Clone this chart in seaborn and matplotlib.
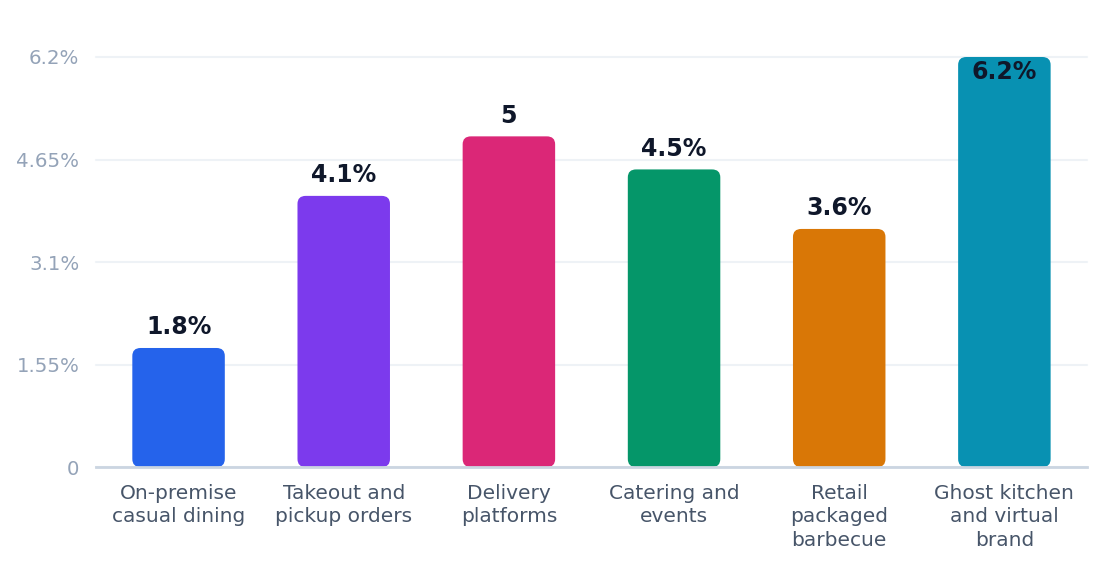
import numpy as np
import pandas as pd
import matplotlib
matplotlib.use("Agg")
import matplotlib.pyplot as plt
from matplotlib.patches import FancyBboxPatch
import seaborn as sns

categories = ["On-premise\ncasual dining", "Takeout and\npickup orders", "Delivery\nplatforms",
              "Catering and\nevents", "Retail\npackaged\nbarbecue", "Ghost kitchen\nand virtual\nbrand"]
values = [1.8, 4.1, 5.0, 4.5, 3.6, 6.2]
value_labels = ["1.8%", "4.1%", "5", "4.5%", "3.6%", "6.2%"]
colors = ["#2563eb", "#7c3aed", "#db2777", "#059669", "#d97706", "#0891b2"]
yticks = [0, 1.55, 3.1, 4.65, 6.2]
ytick_labels = ["0", "1.55%", "3.1%", "4.65%", "6.2%"]

df = pd.DataFrame({"category": categories, "value": values})

sns.set_style("white")
plt.rcParams["font.family"] = ["DejaVu Sans"]

fig = plt.figure(figsize=(11.2, 5.84), dpi=100)
ax = fig.add_axes([0.0857, 0.2003, 0.9705 - 0.0857, 0.9024 - 0.2003])

sns.barplot(data=df, x="category", y="value", hue="category", palette=colors,
            legend=False, width=0.56, ax=ax, zorder=3)

# swap the plain bars for rounded ones
for patch, col in zip(list(ax.patches), colors):
    x, y = patch.get_x(), patch.get_y()
    w, h = patch.get_width(), patch.get_height()
    patch.remove()
    rb = FancyBboxPatch((x, y), w, h, boxstyle="round,pad=0,rounding_size=0.05",
                        mutation_aspect=2.4, facecolor=col, edgecolor="none", zorder=3)
    ax.add_patch(rb)

ax.set_xlim(-0.5, 5.5)
ax.set_ylim(0, 6.2)
ax.set_yticks(yticks)
ax.set_yticklabels(ytick_labels)
ax.set_xlabel("")
ax.set_ylabel("")

for i, (v, lab) in enumerate(zip(values, value_labels)):
    off = -11 if v >= 6.0 else 15
    ax.annotate(lab, (i, v), xytext=(0, off), textcoords="offset points",
                ha="center", va="center", fontsize=17, fontweight="bold",
                color="#0f172a", zorder=5, annotation_clip=False)

ax.grid(axis="y", color="#eef2f6", linewidth=1.5, zorder=0)
ax.grid(axis="x", visible=False)
for gl in ax.get_ygridlines():
    gl.set_clip_on(False)
for s in ["top", "right", "left"]:
    ax.spines[s].set_visible(False)
ax.spines["bottom"].set_color("#cbd5e1")
ax.spines["bottom"].set_linewidth(2)
ax.spines["bottom"].set_zorder(4)

ax.tick_params(axis="y", length=0, pad=12, labelsize=14.2, labelcolor="#94a3b8")
ax.tick_params(axis="x", length=0, pad=12, labelsize=14.5, labelcolor="#475569")
for t in ax.get_xticklabels():
    t.set_linespacing(1.32)

fig.savefig("out.png", dpi=100, facecolor="white")
